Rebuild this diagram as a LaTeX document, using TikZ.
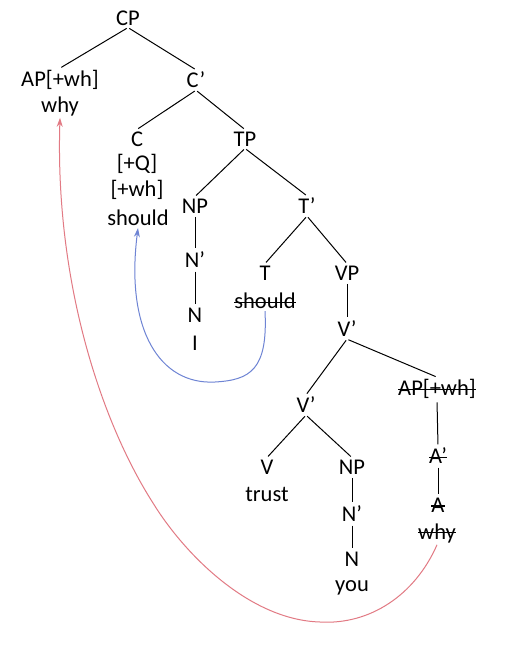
\documentclass[tikz,border=0pt]{standalone}
\usepackage{fontspec}
\setmainfont{Carlito}[Ligatures=ResetAll]
\usetikzlibrary{arrows.meta}
\newsavebox\strkbox
\newcommand\strk[1]{\sbox\strkbox{#1}\rlap{\rule[0.25em]{\wd\strkbox}{0.055em}}\usebox\strkbox}
\begin{document}
\begin{tikzpicture}[x=1pt,y=-1pt,
  lab/.style={inner sep=2pt,font=\fontsize{22.5}{25}\selectfont},
  edge/.style={draw=black,line width=1pt,shorten <=1.5pt,shorten >=1.5pt},
  blueline/.style={draw={rgb,255:red,110;green,132;blue,212},line width=1pt,-{Stealth[length=9pt,width=6pt]}},
  redline/.style={draw={rgb,255:red,226;green,122;blue,132},line width=1pt,-{Stealth[length=9pt,width=6pt]}}]
\useasboundingbox (0,0) rectangle (531,667);
\fill[white] (0,0) rectangle (531,667);
% nodes
\node[lab] (cp) at (128,18) {CP};
\node[lab] (ap) at (60,80) {AP[+wh]};
\node[lab] (why) at (60,106) {why};
\node[lab] (cbar) at (196,80) {C\symbol{"27}};
\node[lab] (c) at (137,139) {C};
\node[lab] (cq) at (137,164) {[+Q]};
\node[lab] (cwh) at (137,190) {[+wh]};
\node[lab] (should) at (138,218) {should};
\node[lab] (tp) at (245,139) {TP};
\node[lab] (np1) at (195,206) {NP};
\node[lab] (n1bar) at (195,260) {N’};
\node[lab] (n1) at (195,315) {N};
\node[lab] (i) at (195,343) {I};
\node[lab] (tbar) at (307,206) {T’};
\node[lab] (t) at (265,273) {T};
\node[lab] (shouldt) at (265,301) {\strk{should}};
\node[lab] (vp) at (347,273) {VP};
\node[lab] (vbar1) at (347,329) {V’};
\node[lab] (vbar2) at (306,405) {V’};
\node[lab] (apt) at (437,389) {\strk{AP[+wh]}};
\node[lab] (v) at (267,467) {V};
\node[lab] (trust) at (267,494) {trust};
\node[lab] (np2) at (352,467) {NP};
\node[lab] (n2bar) at (352,514) {N’};
\node[lab] (n2) at (352,559) {N};
\node[lab] (you) at (352,588) {you};
\node[lab] (abart) at (438,456) {\strk{A’}};
\node[lab] (at) at (438,505) {\strk{A}};
\node[lab] (whyt) at (437,533) {\strk{why}};
% edges
\draw[edge] (cp.south) -- (ap.north);
\draw[edge] (cp.south) -- (cbar.north);
\draw[edge] (cbar.south) -- (c.north);
\draw[edge] (cbar.south) -- (tp.north);
\draw[edge] (tp.south) -- (np1.north);
\draw[edge] (tp.south) -- (tbar.north);
\draw[edge] (np1.south) -- (n1bar.north);
\draw[edge] (n1bar.south) -- (n1.north);
\draw[edge] (tbar.south) -- (t.north);
\draw[edge] (tbar.south) -- (vp.north);
\draw[edge] (vp.south) -- (vbar1.north);
\draw[edge] (vbar1.south) -- (vbar2.north);
\draw[edge] (vbar1.south) -- (apt.north);
\draw[edge] (vbar2.south) -- (v.north);
\draw[edge] (vbar2.south) -- (np2.north);
\draw[edge] (np2.south) -- (n2bar.north);
\draw[edge] (n2bar.south) -- (n2.north);
\draw[edge] (apt.south) -- (abart.north);
\draw[edge] (abart.south) -- (at.north);
% movement arrows
\draw[blueline] (shouldt.south) .. controls (268,370) and (250,380) .. (215,382)
  .. controls (160,385) and (125,330) .. (should.south);
\draw[redline] (whyt.south) .. controls (415,595) and (370,625) .. (320,622)
  .. controls (250,620) and (185,555) .. (153,503)
  .. controls (100,420) and (55,280) .. (why.south);
\end{tikzpicture}
\end{document}
